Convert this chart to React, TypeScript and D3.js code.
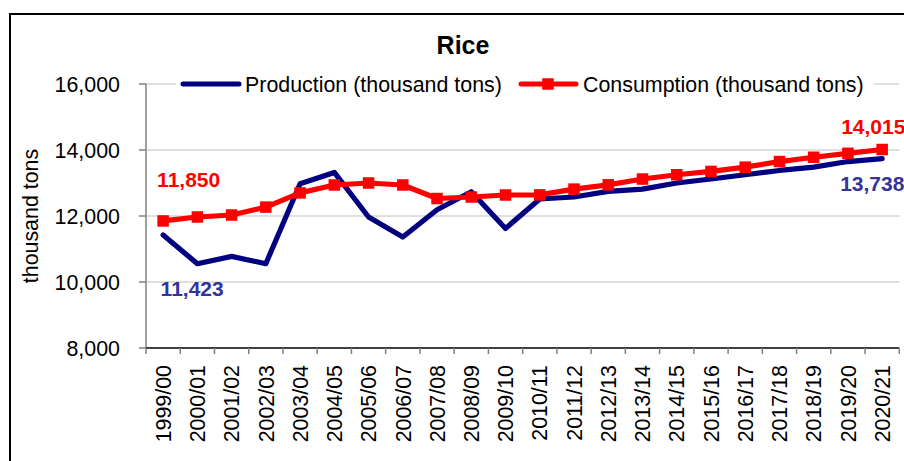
import React from "react";
import * as d3 from "d3";

const categories = [
  "1999/00", "2000/01", "2001/02", "2002/03", "2003/04", "2004/05", "2005/06",
  "2006/07", "2007/08", "2008/09", "2009/10", "2010/11", "2011/12", "2012/13",
  "2013/14", "2014/15", "2015/16", "2016/17", "2017/18", "2018/19", "2019/20", "2020/21",
];
const production = [
  11423, 10555, 10776, 10555, 12980, 13320, 11970, 11364, 12190, 12736, 11624,
  12515, 12575, 12745, 12815, 13000, 13120, 13250, 13380, 13480, 13650, 13738,
];
const consumption = [
  11850, 11970, 12030, 12270, 12700, 12940, 13000, 12940, 12530, 12575, 12636,
  12640, 12815, 12945, 13120, 13250, 13350, 13480, 13650, 13780, 13900, 14015,
];
const yTicks = [8000, 10000, 12000, 14000, 16000];
const seriesNames = ["Production (thousand tons)", "Consumption (thousand tons)"];
const title = "Rice";
const yTitle = "thousand tons";

const FONT = "'Liberation Sans', Arial, sans-serif";
const RED = "#ff0000";
const NAVY = "#000080";
const LBLUE = "#333399";
const FS = 21.4;

export default function App() {
  const W = 904, H = 461;
  const left = 146, right = 899.3, top = 84, bottom = 348;
  const x = d3.scaleBand<string>().domain(categories).range([left, right]);
  const y = d3.scaleLinear().domain([8000, 16000]).range([bottom, top]);
  const cx = (c: string) => (x(c) as number) + x.bandwidth() / 2;
  const line = d3
    .line<number>()
    .x((_, i) => cx(categories[i]))
    .y((d) => y(d));
  const fmt = d3.format(",");
  const n = categories.length;
  const first = categories[0];
  const last = categories[n - 1];
  const ms = 11.5;

  return (
    <svg width={W} height={H} style={{ position: "absolute", left: 0, top: 0, background: "#fff" }} fontFamily={FONT}>
      <rect x={0} y={0} width={W} height={H} fill="#fff" />
      <rect x={10} y={14} width={920} height={520} fill="#fff" stroke="#000" strokeWidth={2} />
      {/* gridlines */}
      {yTicks.slice(1).map((t) => (
        <line key={t} x1={left} x2={right} y1={y(t)} y2={y(t)} stroke="#c0c0c0" strokeWidth={1} />
      ))}
      {/* y axis */}
      <line x1={left} x2={left} y1={top} y2={bottom} stroke="#808080" strokeWidth={1.5} />
      {yTicks.map((t) => (
        <g key={t}>
          <line x1={left - 7} x2={left} y1={y(t)} y2={y(t)} stroke="#808080" strokeWidth={1.5} />
          <text x={120} y={y(t)} dy="0.36em" textAnchor="end" fontSize={FS} fill="#000">
            {fmt(t)}
          </text>
        </g>
      ))}
      {/* x axis */}
      <line x1={left} x2={right} y1={bottom} y2={bottom} stroke="#000" strokeWidth={1.5} />
      {categories.map((c) => (
        <line key={"t" + c} x1={x(c) as number} x2={x(c) as number} y1={bottom} y2={bottom + 6} stroke="#808080" strokeWidth={1.5} />
      ))}
      <line x1={right} x2={right} y1={bottom} y2={bottom + 6} stroke="#808080" strokeWidth={1.5} />
      {categories.map((c) => (
        <text
          key={"l" + c}
          transform={`translate(${cx(c)},365) rotate(-90)`}
          dy="0.36em"
          textAnchor="end"
          fontSize={FS}
          fill="#000"
        >
          {c}
        </text>
      ))}
      {/* y title */}
      <text transform={`translate(30,${(top + bottom) / 2}) rotate(-90)`} dy="0.36em" textAnchor="middle" fontSize={FS} fill="#000">
        {yTitle}
      </text>
      {/* title */}
      <text x={463} y={54} textAnchor="middle" fontSize={25} fontWeight="bold" fill="#000">
        {title}
      </text>
      {/* legend */}
      <rect x={176} y={70} width={698} height={28} fill="#fff" />
      <line x1={183} x2={239} y1={84} y2={84} stroke={NAVY} strokeWidth={5} strokeLinecap="round" />
      <text x={245} y={84} dy="0.36em" fontSize={FS} fill="#000">
        {seriesNames[0]}
      </text>
      <line x1={521} x2={576} y1={84} y2={84} stroke={RED} strokeWidth={5} strokeLinecap="round" />
      <rect x={548 - ms / 2} y={84 - ms / 2} width={ms} height={ms} fill={RED} />
      <text x={583} y={84} dy="0.36em" fontSize={FS} fill="#000">
        {seriesNames[1]}
      </text>
      {/* series */}
      <path d={line(production) || ""} fill="none" stroke={NAVY} strokeWidth={5.2} strokeLinejoin="round" strokeLinecap="round" />
      <path d={line(consumption) || ""} fill="none" stroke={RED} strokeWidth={5.2} strokeLinejoin="round" strokeLinecap="round" />
      {consumption.map((v, i) => (
        <rect key={"m" + i} x={cx(categories[i]) - ms / 2} y={y(v) - ms / 2} width={ms} height={ms} fill={RED} />
      ))}
      {/* data labels */}
      <text x={cx(first) - 6} y={y(consumption[0]) - 34} fontSize={21} fontWeight="bold" fill={RED}>
        {fmt(consumption[0])}
      </text>
      <text x={cx(first) - 2.5} y={y(production[0]) + 61} fontSize={21} fontWeight="bold" fill={LBLUE}>
        {fmt(production[0])}
      </text>
      <text x={cx(last) - 41} y={y(consumption[n - 1]) - 16} fontSize={21} fontWeight="bold" fill={RED}>
        {fmt(consumption[n - 1])}
      </text>
      <text x={cx(last) - 42} y={y(production[n - 1]) + 32} fontSize={21} fontWeight="bold" fill={LBLUE}>
        {fmt(production[n - 1])}
      </text>
    </svg>
  );
}
